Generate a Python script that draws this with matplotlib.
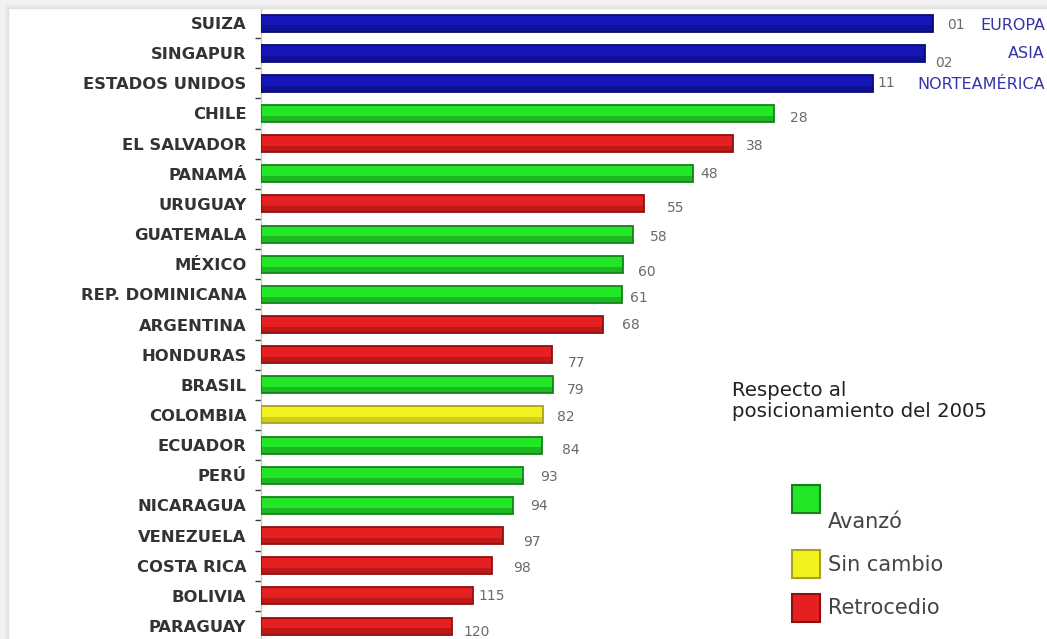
import matplotlib
matplotlib.use("Agg")
import matplotlib.pyplot as plt
from matplotlib.patches import Rectangle

# ---- data -------------------------------------------------------------
paises = ["SUIZA", "SINGAPUR", "ESTADOS UNIDOS", "CHILE", "EL SALVADOR",
          "PANAMÁ", "URUGUAY", "GUATEMALA", "MÉXICO", "REP. DOMINICANA",
          "ARGENTINA", "HONDURAS", "BRASIL", "COLOMBIA", "ECUADOR", "PERÚ",
          "NICARAGUA", "VENEZUELA", "COSTA RICA", "BOLIVIA", "PARAGUAY"]
puntaje = [6.72, 6.64, 6.12, 5.13, 4.72, 4.32, 3.83, 3.72, 3.62, 3.61,
           3.42, 2.91, 2.92, 2.82, 2.81, 2.62, 2.52, 2.42, 2.31, 2.12, 1.91]
ranking = ["01", "02", "11", "28", "38", "48", "55", "58", "60", "61",
           "68", "77", "79", "82", "84", "93", "94", "97", "98", "115", "120"]
estado = ["ref", "ref", "ref", "avanzo", "retrocedio", "avanzo",
          "retrocedio", "avanzo", "avanzo", "avanzo", "retrocedio",
          "retrocedio", "avanzo", "sin_cambio", "avanzo", "avanzo", "avanzo",
          "retrocedio", "retrocedio", "retrocedio", "retrocedio"]
regiones = ["EUROPA", "ASIA", "NORTEAMÉRICA"]
leyenda_titulo = "Respecto al\nposicionamiento del 2005"
leyenda_estados = ["avanzo", "sin_cambio", "retrocedio"]
leyenda_textos = ["Avanzó", "Sin cambio", "Retrocedio"]

# ---- styles -----------------------------------------------------------
relleno = {"ref": "#1616b8", "avanzo": "#22e626", "sin_cambio": "#f2f21e",
           "retrocedio": "#e62020"}
borde = {"ref": "#0b0b72", "avanzo": "#17801b", "sin_cambio": "#a8a020",
         "retrocedio": "#8e1111"}
# label nudges (pixels right of bar end, pixels below bar centre)
nudge_x = [14, 10, 4, 16, 13, 7, 23, 17, 15, 8, 19, 16, 14, 14, 20, 17, 17,
           20, 21, 5, 11]
nudge_y = [2, 10, 0, 5, 2, 0, 4, 3, 8, 4, 0, 8, 5, 2, 5, 2, 1, 6, 2, 0, 6]
region_y = [2, 0, 1]

W, H = 1047, 639
fig = plt.figure(figsize=(W / 100, H / 100), dpi=100)
fig.patch.set_facecolor("white")

# soft grey frame along the top and left edges
for k, c in enumerate(["#e2e2e2", "#eaeaea", "#f2f2f2"]):
    fig.patches.append(Rectangle((0, 1 - (8 - 2 * k) / H), 1, (8 - 2 * k) / H,
                                 transform=fig.transFigure, color=c, zorder=0))
    fig.patches.append(Rectangle((0, 0), (8 - 2 * k) / W, 1,
                                 transform=fig.transFigure, color=c, zorder=0))

left_px, top_px = 261, 8
ax = fig.add_axes([left_px / W, 0, 1 - left_px / W, (H - top_px) / H])
ax.set_facecolor("none")

y = list(range(len(paises)))
row0, paso = 23.0, 30.15
alto = 17 / paso
ax.set_ylim((H - row0) / paso, (top_px - row0) / paso)
ax.set_xlim(0, (W - left_px) / 100)

ax.barh(y, puntaje, height=alto,
        color=[relleno[e] for e in estado],
        edgecolor=[borde[e] for e in estado], linewidth=1.3, zorder=3)
# darker shading along the lower part of each bar
ax.barh([i + alto * 0.3 for i in y], puntaje, height=alto * 0.32,
        color=[borde[e] for e in estado], alpha=0.45, linewidth=0, zorder=4)

for s in ["top", "right", "bottom"]:
    ax.spines[s].set_visible(False)
ax.spines["left"].set_color("#c9d2b6")
ax.spines["left"].set_linewidth(1.0)

ax.set_xticks([])
ax.set_yticks(y)
ax.set_yticklabels(paises, fontsize=11.8, fontweight="bold", color="#333333",
                   fontfamily="DejaVu Sans")
ax.tick_params(axis="y", which="major", length=0, pad=10.5)
ax.set_yticks([i + 0.5 for i in y[:-1]], minor=True)
ax.tick_params(axis="y", which="minor", length=4, width=1.0,
               color="#3c3c3c", direction="out")

for i, (v, r) in enumerate(zip(puntaje, ranking)):
    ax.annotate(r, xy=(v, i), xytext=(nudge_x[i], -nudge_y[i]),
                textcoords="offset pixels", ha="left", va="center",
                fontsize=10, color="#6a6a6a", fontfamily="DejaVu Sans",
                zorder=5)

for i, reg in enumerate(regiones):
    ax.annotate(reg, xy=(1, i), xycoords=ax.get_yaxis_transform(),
                xytext=(-2, -region_y[i]), textcoords="offset pixels",
                ha="right", va="center", fontsize=11.5, color="#3434a8",
                fontfamily="DejaVu Sans", annotation_clip=False)

# legend
fig.text(732 / W, 1 - 381 / H, leyenda_titulo, ha="left", va="top",
         fontsize=14.2, color="#222222", fontfamily="DejaVu Sans",
         linespacing=1.15)
cuadros = [(485, 522), (550, 565), (594, 608)]
for (top, ty), e, t in zip(cuadros, leyenda_estados, leyenda_textos):
    fig.patches.append(Rectangle((792 / W, 1 - (top + 28) / H), 28 / W,
                                 28 / H, transform=fig.transFigure,
                                 facecolor=relleno[e], edgecolor=borde[e],
                                 linewidth=1.5, zorder=5))
    fig.text(828 / W, 1 - ty / H, t, ha="left", va="center", fontsize=15,
             color="#444444", fontfamily="DejaVu Sans")

fig.savefig("out.png", dpi=100)
